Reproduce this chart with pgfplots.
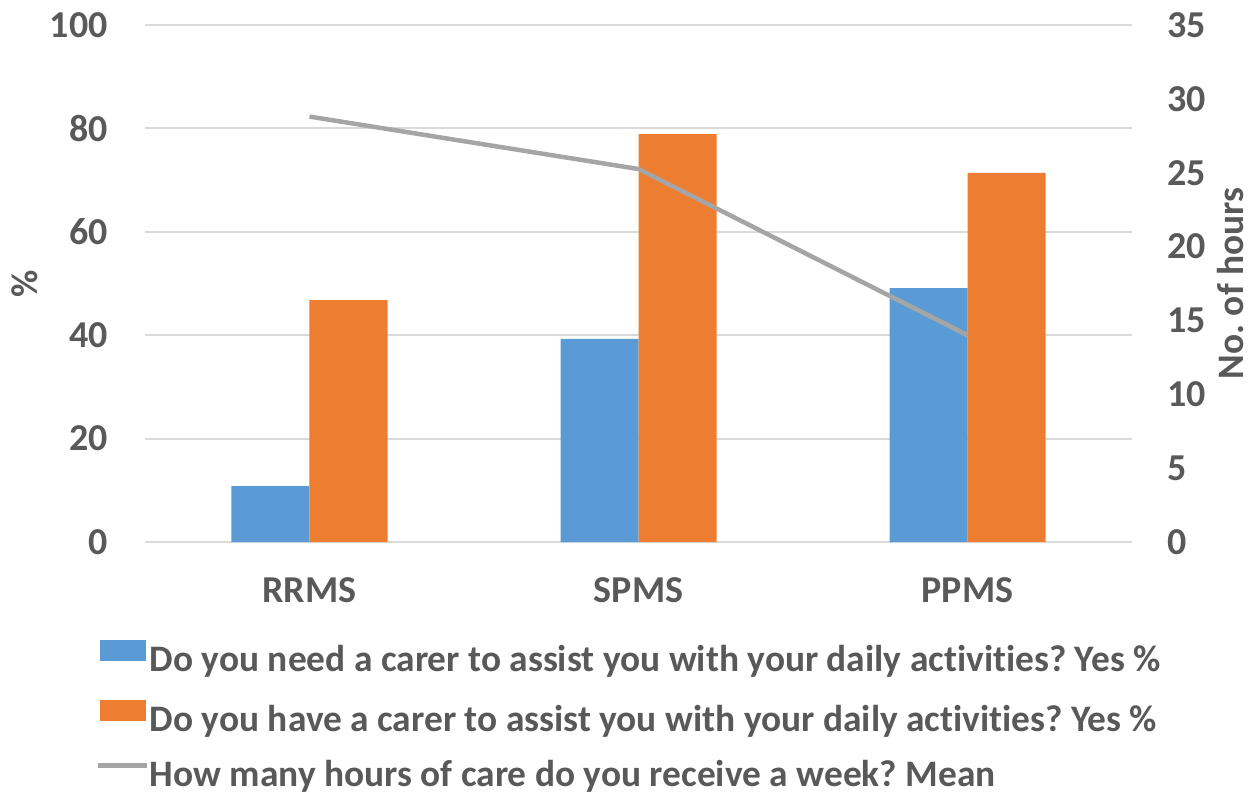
\documentclass[border=0pt]{standalone}
\usepackage{pgfplots}
\pgfplotsset{compat=1.18}
\usepackage{fontspec}
\setmainfont{Carlito}[Ligatures={NoCommon}]
\frenchspacing
\definecolor{cblue}{HTML}{5B9BD5}
\definecolor{corange}{HTML}{ED7D31}
\definecolor{cgray}{HTML}{A5A5A5}
\definecolor{cgrid}{HTML}{D9D9D9}
\definecolor{ctext}{HTML}{595959}
\pgfplotsset{
  barlegend/.style={legend image code/.code={\fill[##1, draw=none] (0pt,0pt) rectangle (23pt,10.5pt);}},
  linelegend/.style={legend image code/.code={\draw[##1] (-1pt,5.25pt) -- (23.5pt,5.25pt);}},
  common/.style={
    scale only axis, width=493.5pt, height=258.5pt,
    xmin=-0.5, xmax=2.5,
    axis line style={draw=none},
    major tick length=0pt,
    /pgf/number format/assume math mode=true,
    tick label style={font=\bfseries\fontsize{19}{22}\selectfont, text=ctext},
  },
}
\begin{document}
\begin{tikzpicture}
\path[use as bounding box] (-72.5pt,-125.5pt) rectangle (553.5pt,271pt);
\begin{axis}[common,
  ymin=0, ymax=100,
  xtick={0,1,2}, xticklabels={RRMS,SPMS,PPMS},
  ytick={0,20,...,100},
  ymajorgrids, grid style={draw=cgrid, line width=1pt},
  yticklabel style={anchor=east, inner sep=0pt, xshift=-18.5pt},
  xticklabel style={anchor=base, inner sep=0pt, yshift=-30pt},
  ylabel={\%},
  every axis y label/.style={at={(rel axis cs:0,0.5)}, xshift=-60pt, rotate=90, anchor=center, font=\bfseries\fontsize{18.7}{21}\selectfont, text=ctext},
  bar width=39pt,
]
\addplot[ybar, fill=cblue, draw=none, bar shift=-19.5pt] coordinates {(0,10.8) (1,39.3) (2,49.1)};
\addplot[ybar, fill=corange, draw=none, bar shift=19.5pt] coordinates {(0,46.8) (1,78.9) (2,71.4)};
\end{axis}
\begin{axis}[common,
  ymin=0, ymax=35,
  ytick={0,5,...,35},
  axis x line=none, axis y line*=right,
  yticklabel style={anchor=west, inner sep=0pt, xshift=17.5pt},
  ylabel={No. of hours},
  every axis y label/.style={at={(rel axis cs:1,0.5)}, xshift=49.5pt, rotate=90, anchor=center, inner sep=0pt, font=\bfseries\fontsize{18.7}{21}\selectfont, text=ctext},
  legend style={draw=none, fill=none, inner sep=0pt, at={(-0.0507,-0.189)}, anchor=north west,
    column sep=0.5pt, row sep=11.5pt,
    font=\bfseries\fontsize{18.7}{21}\selectfont, text=ctext,
    nodes={inner sep=0pt, text height=13pt, text depth=3pt}},
  legend cell align=left,
]
\addlegendimage{barlegend, fill=cblue}
\addlegendentry{Do you need a carer to assist you with your daily activities? Yes \%}
\addlegendimage{barlegend, fill=corange}
\addlegendentry{Do you have a carer to assist you with your daily activities? Yes \%}
\addplot[color=cgray, line width=2.25pt, linelegend] coordinates {(0,28.8) (1,25.25) (2,14.0)};
\addlegendentry{How many hours of care do you receive a week? Mean}
\end{axis}
\end{tikzpicture}
\end{document}
